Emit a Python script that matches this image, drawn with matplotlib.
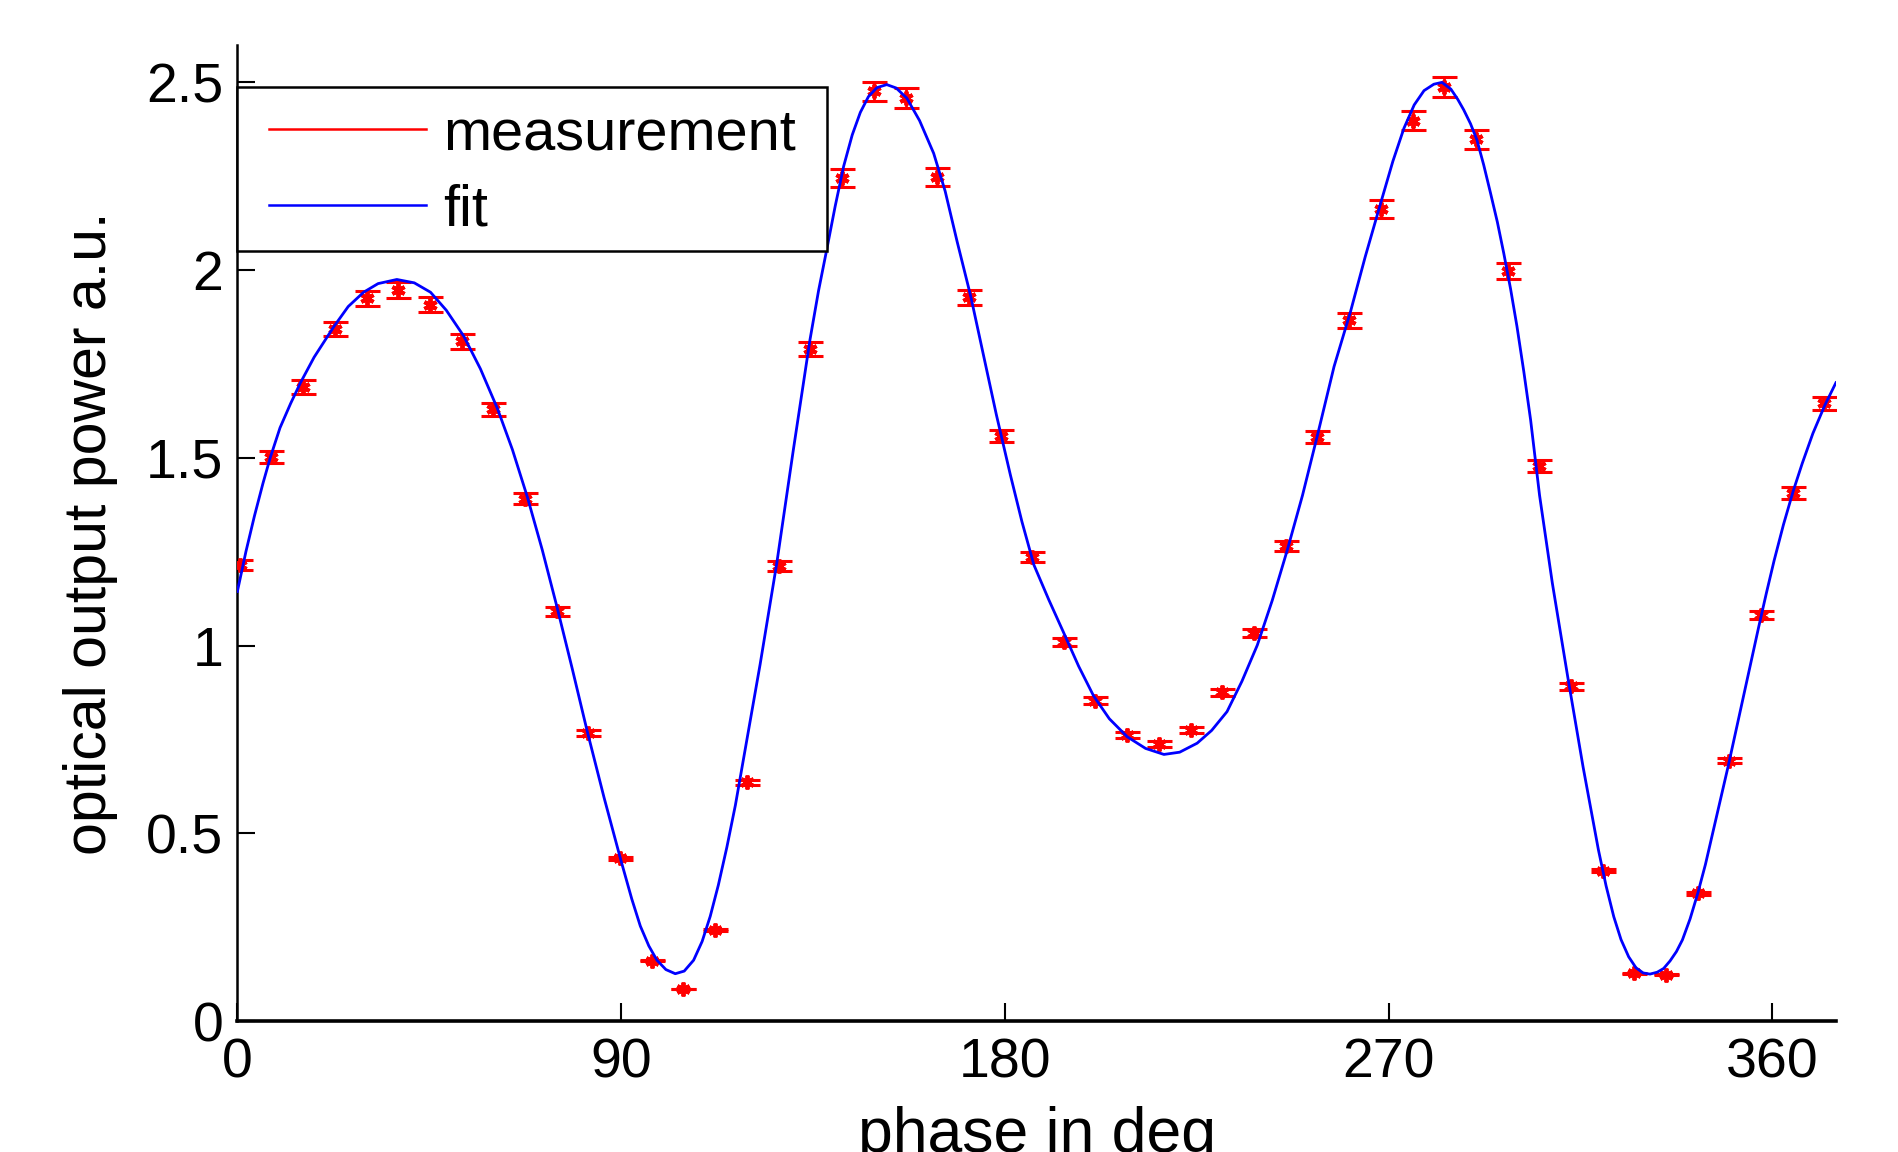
import matplotlib
matplotlib.use("Agg")
import matplotlib.pyplot as plt
from matplotlib.lines import Line2D
from matplotlib.patches import Rectangle

# ---- data ----
phase_deg = [0.6, 8.0, 15.4, 22.9, 30.3, 37.7, 45.2, 52.6, 60.0, 67.5,
             74.9, 82.3, 89.8, 97.2, 104.6, 112.1, 119.5, 127.0, 134.4, 141.8,
             149.2, 156.7, 164.1, 171.5, 179.0, 186.4, 193.8, 201.2, 208.7, 216.1,
             223.6, 231.0, 238.4, 245.9, 253.3, 260.7, 268.2, 275.6, 283.0, 290.4,
             297.9, 305.3, 312.7, 320.2, 327.6, 335.0, 342.5, 349.9, 357.3, 364.8,
             372.2]
power = [1.214, 1.501, 1.689, 1.844, 1.925, 1.946, 1.908, 1.810, 1.629, 1.391,
         1.092, 0.766, 0.433, 0.161, 0.085, 0.242, 0.636, 1.211, 1.790, 2.244,
         2.476, 2.459, 2.249, 1.928, 1.558, 1.236, 1.009, 0.853, 0.761, 0.737,
         0.774, 0.875, 1.034, 1.266, 1.555, 1.866, 2.163, 2.398, 2.487, 2.348,
         1.997, 1.477, 0.891, 0.400, 0.127, 0.123, 0.340, 0.693, 1.082, 1.406,
         1.645]
power_err = [0.013, 0.016, 0.018, 0.019, 0.020, 0.021, 0.020, 0.019, 0.017, 0.015,
             0.012, 0.008, 0.005, 0.002, 0.001, 0.003, 0.007, 0.013, 0.019, 0.024,
             0.026, 0.026, 0.024, 0.020, 0.016, 0.013, 0.011, 0.009, 0.008, 0.008,
             0.008, 0.009, 0.011, 0.013, 0.016, 0.020, 0.023, 0.025, 0.026, 0.025,
             0.021, 0.016, 0.009, 0.004, 0.001, 0.001, 0.004, 0.007, 0.011, 0.015,
             0.017]

fit_deg = [0.0, 2.0, 4.0, 6.0, 7.7, 10.0, 12.5, 14.8, 18.0, 22.6,
           26.0, 29.6, 33.0, 37.4, 41.5, 45.3, 49.0, 53.1, 57.0, 61.0,
           64.5, 68.0, 71.5, 75.0, 78.5, 82.0, 86.0, 89.9, 92.5, 94.5,
           96.5, 98.4, 100.5, 102.7, 104.8, 107.0, 109.0, 110.9, 112.8, 114.8,
           116.8, 118.7, 122.6, 126.5, 130.4, 134.3, 136.3, 138.3, 140.2, 142.2,
           144.2, 146.1, 148.0, 150.0, 152.3, 154.5, 157.0, 160.0, 163.3, 166.0,
           168.8, 172.0, 175.0, 178.0, 181.3, 184.0, 186.8, 190.3, 193.8, 197.3,
           200.8, 204.5, 208.7, 213.0, 217.3, 221.0, 225.1, 228.5, 232.1, 235.6,
           239.2, 242.7, 246.2, 249.8, 253.2, 257.2, 261.1, 264.5, 268.1, 271.0,
           273.6, 276.0, 278.3, 280.6, 282.5, 284.6, 286.2, 287.6, 289.2, 290.7,
           292.3, 293.9, 295.5, 297.0, 298.6, 300.1, 301.7, 303.3, 305.4, 308.4,
           312.0, 315.6, 319.2, 321.0, 322.8, 324.5, 326.3, 328.0, 329.7, 331.3,
           333.0, 334.5, 336.0, 337.5, 338.9, 340.7, 342.5, 344.3, 346.0, 349.6,
           353.2, 356.8, 358.6, 360.4, 362.6, 364.9, 367.0, 369.5, 372.3, 374.9]
fit_power = [1.144, 1.250, 1.345, 1.432, 1.500, 1.580, 1.645, 1.700, 1.768, 1.849,
             1.903, 1.941, 1.964, 1.975, 1.966, 1.941, 1.893, 1.824, 1.737, 1.631,
             1.522, 1.396, 1.255, 1.101, 0.940, 0.774, 0.595, 0.430, 0.325, 0.253,
             0.200, 0.162, 0.137, 0.126, 0.133, 0.162, 0.212, 0.279, 0.362, 0.463,
             0.575, 0.698, 0.950, 1.219, 1.522, 1.815, 1.945, 2.059, 2.170, 2.277,
             2.360, 2.420, 2.462, 2.486, 2.494, 2.485, 2.458, 2.398, 2.311, 2.210,
             2.076, 1.930, 1.773, 1.615, 1.454, 1.330, 1.215, 1.122, 1.034, 0.945,
             0.866, 0.805, 0.757, 0.726, 0.710, 0.716, 0.740, 0.774, 0.824, 0.905,
             1.001, 1.120, 1.253, 1.400, 1.555, 1.743, 1.891, 2.035, 2.177, 2.290,
             2.378, 2.440, 2.478, 2.495, 2.500, 2.482, 2.455, 2.427, 2.390, 2.347,
             2.280, 2.205, 2.128, 2.045, 1.950, 1.850, 1.730, 1.601, 1.400, 1.166,
             0.917, 0.677, 0.456, 0.360, 0.278, 0.217, 0.171, 0.142, 0.128, 0.125,
             0.130, 0.140, 0.160, 0.185, 0.216, 0.272, 0.340, 0.417, 0.500, 0.677,
             0.864, 1.050, 1.140, 1.226, 1.322, 1.412, 1.485, 1.565, 1.640, 1.700]

x_ticks = [0, 90, 180, 270, 360]
y_ticks = [0, 0.5, 1, 1.5, 2, 2.5]
y_tick_labels = ["0", "0.5", "1", "1.5", "2", "2.5"]
legend_labels = ['measurement', 'fit']

plt.rcParams['font.family'] = ['Liberation Sans', 'DejaVu Sans']

fig = plt.figure(figsize=(18.99, 11.52), dpi=100)
ax = fig.add_axes([0.125, 0.1137, 0.842, 0.8474])

ax.errorbar(phase_deg, power, yerr=power_err, fmt='none', ecolor='red',
            elinewidth=2.0, capsize=9, capthick=2.2, zorder=2)
ax.plot(phase_deg, power, linestyle='none', marker=(6, 2, 0), color='red',
        markersize=10, markeredgewidth=2.8, zorder=3)
ax.plot(fit_deg, fit_power, color='blue', linewidth=2.0, zorder=4,
        solid_joinstyle='round')

ax.set_xlim(0, 375)
ax.set_ylim(0, 2.6)
ax.set_xticks(x_ticks)
ax.set_xticklabels([str(t) for t in x_ticks])
ax.set_yticks(y_ticks)
ax.set_yticklabels(y_tick_labels)

for s in ['top', 'right']:
    ax.spines[s].set_visible(False)
ax.spines['left'].set_linewidth(1.8)
ax.spines['bottom'].set_linewidth(2.6)

ax.tick_params(axis='both', direction='in', length=13, width=1.5,
               labelsize=40, colors='black')
ax.tick_params(axis='x', pad=12)
ax.tick_params(axis='y', pad=10)

ax.set_xlabel('phase in deg', fontsize=45, labelpad=12)
ax.set_ylabel('optical output power a.u.', fontsize=42.5, labelpad=20)

# legend frame (box drawn flush with the y axis, as in the reference)
frame = Rectangle((0.0, 0.7888), 0.3686, 0.168, transform=ax.transAxes,
                  facecolor='white', edgecolor='black', linewidth=1.8,
                  zorder=5, clip_on=False)
ax.add_patch(frame)

handles = [Line2D([], [], color='red', linewidth=1.8),
           Line2D([], [], color='blue', linewidth=1.8)]
leg = ax.legend(handles, legend_labels, loc='upper left',
                bbox_to_anchor=(0.0197, 0.936), borderaxespad=0.0,
                borderpad=0.0, fontsize=41.5, handlelength=2.73,
                handletextpad=0.3, labelspacing=0.38, frameon=False)
leg.set_zorder(6)

fig.savefig('out.png', dpi=100, facecolor='white')
